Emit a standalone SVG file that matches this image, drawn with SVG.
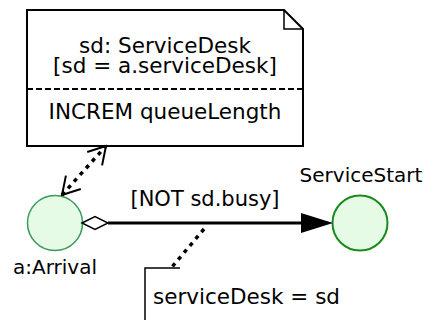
<svg xmlns="http://www.w3.org/2000/svg" width="424" height="320" viewBox="0 0 424 320">
  <defs>
    <style>
      text { font-family: "DejaVu Sans", "Verdana", sans-serif; fill: #000; font-size: 21.5px; }
      .small { font-size: 20px; }
      .note { fill: #fff; stroke: #000; stroke-width: 2; }
      .event { fill: #e6fbe6; }
      .dot { fill: none; stroke: #000; stroke-width: 3.5; stroke-dasharray: 4 5; }
    </style>
    <marker id="open" markerWidth="22" markerHeight="24" refX="0" refY="0" viewBox="-20 -12 22 24" orient="auto-start-reverse" markerUnits="userSpaceOnUse">
      <path d="M-17,-10 L0,0 L-17,10" fill="none" stroke="#000" stroke-width="2"/>
    </marker>
  </defs>

  <!-- note attached to the event: state change on the service desk -->
  <g id="note-servicedesk">
    <path class="note" d="M27,10 L284,10 L303,29 L303,146 L27,146 Z"/>
    <path d="M284,10 L284,29 L303,29" fill="none" stroke="#000" stroke-width="1.5"/>
    <line x1="27" y1="89" x2="303" y2="89" stroke="#000" stroke-width="2" stroke-dasharray="6 3"/>
    <text x="165" y="53" text-anchor="middle">sd: ServiceDesk</text>
    <text x="165" y="73" text-anchor="middle">[sd = a.serviceDesk]</text>
    <text x="165" y="119" text-anchor="middle">INCREM queueLength</text>
  </g>

  <!-- event circles -->
  <g id="node-arrival">
    <circle class="event" cx="55" cy="223" r="27.5" stroke="#3a9a5a" stroke-width="1.5"/>
    <text class="small" x="55" y="274" text-anchor="middle">a:Arrival</text>
  </g>
  <g id="node-servicestart">
    <circle class="event" cx="360" cy="223" r="27.5" stroke="#1a8a1a" stroke-width="2"/>
    <text class="small" x="361" y="182" text-anchor="middle">ServiceStart</text>
  </g>

  <!-- parameter note on the scheduling edge -->
  <g id="note-params">
    <path d="M180,268 L145,268 L145,320" fill="none" stroke="#000" stroke-width="1.5"/>
    <text x="153" y="304">serviceDesk = sd</text>
  </g>

  <g id="connectors">
    <!-- scheduling edge with diamond tail and filled head -->
    <line x1="108" y1="223" x2="302" y2="223" stroke="#000" stroke-width="3"/>
    <path d="M82,223 L95,216.5 L108,223 L95,229.5 Z" fill="#fff" stroke="#000" stroke-width="1.5"/>
    <path d="M301,213 L333,223 L301,233 Z" fill="#000"/>
    <text x="205" y="206" text-anchor="middle" style="font-size:21px">[NOT sd.busy]</text>
    <!-- link to parameter note -->
    <line class="dot" x1="204" y1="229" x2="172" y2="267"/>
    <!-- link between event and state-change note -->
    <line class="dot" x1="62" y1="195" x2="106" y2="146" marker-start="url(#open)" marker-end="url(#open)"/>
  </g>
</svg>
